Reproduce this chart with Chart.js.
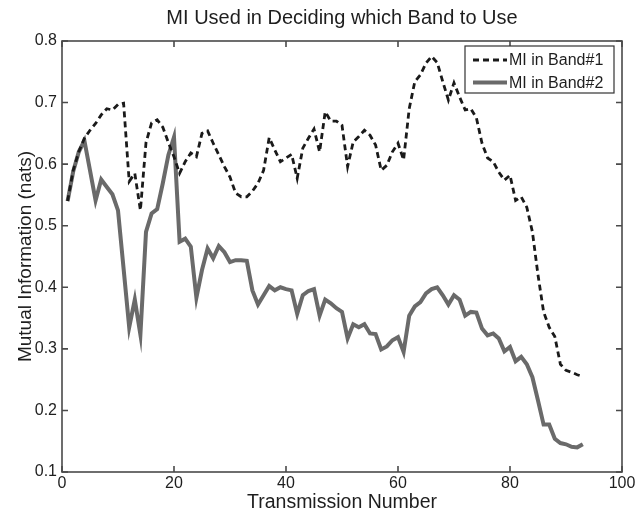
<!DOCTYPE html>
<html>
<head>
<meta charset="utf-8">
<script src="https://cdn.jsdelivr.net/npm/chart.js@4.4.1/dist/chart.umd.min.js"></script>
<style>
  html, body { margin: 0; padding: 0; background: #ffffff; }
  #wrap { width: 638px; height: 515px; }
</style>
</head>
<body>
<div id="wrap"><canvas id="c" width="638" height="515"></canvas></div>
<script>
// ---- data ----
const transmission = [1,2,3,4,5,6,7,8,9,10,11,12,13,14,15,16,17,18,19,20,
  21,22,23,24,25,26,27,28,29,30,31,32,33,34,35,36,37,38,39,40,
  41,42,43,44,45,46,47,48,49,50,51,52,53,54,55,56,57,58,59,60,
  61,62,63,64,65,66,67,68,69,70,71,72,73,74,75,76,77,78,79,80,
  81,82,83,84,85,86,87,88,89,90,91,92,93];

const miBand1 = [0.540,0.590,0.620,0.642,0.655,0.666,0.680,0.690,0.688,0.697,
  0.699,0.572,0.585,0.525,0.635,0.667,0.672,0.660,0.635,0.612,
  0.585,0.604,0.618,0.612,0.650,0.654,0.634,0.615,0.596,0.579,
  0.553,0.547,0.547,0.556,0.569,0.590,0.643,0.623,0.604,0.610,
  0.616,0.577,0.626,0.642,0.657,0.620,0.685,0.670,0.670,0.663,
  0.596,0.636,0.645,0.655,0.647,0.631,0.590,0.598,0.620,0.634,
  0.607,0.690,0.734,0.745,0.764,0.775,0.765,0.734,0.704,0.732,
  0.709,0.688,0.690,0.675,0.634,0.610,0.604,0.587,0.574,0.582,
  0.541,0.547,0.530,0.490,0.420,0.360,0.335,0.320,0.275,0.265,
  0.262,0.258,0.255];

const miBand2 = [0.540,0.588,0.620,0.638,0.590,0.541,0.575,0.563,0.551,0.525,
  0.430,0.335,0.380,0.323,0.490,0.520,0.527,0.569,0.615,0.644,
  0.474,0.479,0.466,0.383,0.428,0.463,0.447,0.467,0.457,0.441,
  0.444,0.444,0.443,0.395,0.372,0.387,0.402,0.395,0.400,0.397,
  0.395,0.357,0.387,0.394,0.397,0.354,0.380,0.374,0.366,0.360,
  0.317,0.340,0.335,0.340,0.325,0.324,0.299,0.304,0.314,0.319,
  0.295,0.354,0.369,0.376,0.390,0.397,0.400,0.387,0.372,0.387,
  0.380,0.354,0.360,0.359,0.333,0.322,0.325,0.317,0.296,0.303,
  0.280,0.287,0.275,0.254,0.216,0.177,0.177,0.154,0.147,0.145,
  0.141,0.140,0.145];

const seriesLabels = ['MI in Band#1', 'MI in Band#2'];
const xTickValues = [0, 20, 40, 60, 80, 100];
const yTickValues = [0.1, 0.2, 0.3, 0.4, 0.5, 0.6, 0.7, 0.8];
const chartTitle = 'MI Used in Deciding which Band to Use';
const xTitle = 'Transmission Number';
const yTitle = 'Mutual Information (nats)';

// ---- styles ----
const FONT = '"Liberation Sans", Arial, Helvetica, sans-serif';
const AXIS_COLOR = '#4a4a4a';
const TEXT_COLOR = '#1e1e1e';

// box + inward ticks + legend drawn over the chart using the scales
const boxPlugin = {
  id: 'matlabBox',
  afterDatasetsDraw(chart) {
    const { ctx, chartArea: a, scales } = chart;
    ctx.save();
    ctx.strokeStyle = AXIS_COLOR;
    ctx.lineWidth = 1.6;
    ctx.strokeRect(a.left, a.top, a.right - a.left, a.bottom - a.top);
    const tl = 6;
    ctx.beginPath();
    xTickValues.forEach(v => {
      const px = scales.x.getPixelForValue(v);
      ctx.moveTo(px, a.bottom); ctx.lineTo(px, a.bottom - tl);
      ctx.moveTo(px, a.top); ctx.lineTo(px, a.top + tl);
    });
    yTickValues.forEach(v => {
      const py = scales.y.getPixelForValue(v);
      ctx.moveTo(a.left, py); ctx.lineTo(a.left + tl, py);
      ctx.moveTo(a.right, py); ctx.lineTo(a.right - tl, py);
    });
    ctx.stroke();

    // legend
    const lx = a.right - 157, ly = a.top + 5, lw = 149, lh = 47;
    ctx.fillStyle = '#ffffff';
    ctx.fillRect(lx, ly, lw, lh);
    ctx.strokeStyle = '#333333';
    ctx.lineWidth = 1.2;
    ctx.strokeRect(lx, ly, lw, lh);
    chart.data.datasets.forEach((ds, i) => {
      const yy = ly + 14 + i * 22.5;
      ctx.beginPath();
      ctx.strokeStyle = ds.borderColor;
      ctx.lineWidth = ds.borderWidth;
      ctx.setLineDash(ds.borderDash || []);
      ctx.moveTo(lx + 8, yy); ctx.lineTo(lx + 42, yy);
      ctx.stroke();
      ctx.setLineDash([]);
      ctx.fillStyle = TEXT_COLOR;
      ctx.font = '16px ' + FONT;
      ctx.textBaseline = 'middle';
      ctx.textAlign = 'left';
      ctx.fillText(ds.label, lx + 44, yy + 1);
    });
    ctx.restore();
  }
};

new Chart(document.getElementById('c'), {
  type: 'line',
  data: {
    datasets: [
      {
        label: seriesLabels[0],
        data: transmission.map((t, i) => ({ x: t, y: miBand1[i] })),
        borderColor: '#1a1a1a',
        borderWidth: 2.8,
        borderDash: [6, 4],
        pointRadius: 0,
        tension: 0,
        fill: false
      },
      {
        label: seriesLabels[1],
        data: transmission.map((t, i) => ({ x: t, y: miBand2[i] })),
        borderColor: '#6a6a6a',
        borderWidth: 4,
        pointRadius: 0,
        tension: 0,
        fill: false
      }
    ]
  },
  options: {
    responsive: false,
    animation: false,
    devicePixelRatio: 1,
    layout: { padding: { left: 0, right: 16, top: 0, bottom: 0 } },
    plugins: {
      legend: { display: false },
      tooltip: { enabled: false },
      title: {
        display: true,
        text: chartTitle,
        fullSize: false,
        color: TEXT_COLOR,
        font: { family: FONT, size: 20, weight: 'normal', lineHeight: 1.2 },
        padding: { top: 6, bottom: 11 }
      }
    },
    scales: {
      x: {
        type: 'linear',
        min: 0, max: 100,
        afterBuildTicks: s => { s.ticks = xTickValues.map(v => ({ value: v })); },
        afterFit: s => { s.height = 43; },
        grid: { display: false, drawTicks: false },
        border: { display: false },
        ticks: {
          color: TEXT_COLOR,
          font: { family: FONT, size: 16 },
          padding: 2,
          maxRotation: 0,
          autoSkip: false,
          callback: v => String(v)
        },
        title: {
          display: true,
          text: xTitle,
          color: TEXT_COLOR,
          font: { family: FONT, size: 19.5 },
          padding: { top: 0, bottom: 1 }
        }
      },
      y: {
        type: 'linear',
        min: 0.1, max: 0.8,
        afterBuildTicks: s => { s.ticks = yTickValues.map(v => ({ value: v })); },
        afterFit: s => { s.width = 62; },
        grid: { display: false, drawTicks: false },
        border: { display: false },
        ticks: {
          color: TEXT_COLOR,
          font: { family: FONT, size: 16 },
          padding: 5,
          autoSkip: false,
          callback: v => Number(v).toFixed(1)
        },
        title: {
          display: true,
          text: yTitle,
          color: TEXT_COLOR,
          font: { family: FONT, size: 19 },
          padding: { top: 14, bottom: 0 }
        }
      }
    }
  },
  plugins: [boxPlugin]
});
</script>
</body>
</html>
